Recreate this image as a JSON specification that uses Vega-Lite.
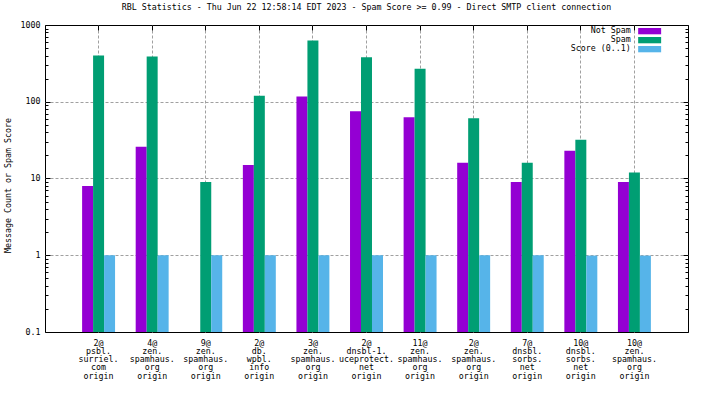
{
  "$schema": "https://vega.github.io/schema/vega-lite/v6.json",
  "width": 643,
  "height": 307,
  "autosize": "none",
  "padding": {"left": 45, "top": 25, "right": 16, "bottom": 64},
  "background": "white",
  "title": {
    "text": "RBL Statistics - Thu Jun 22 12:58:14 EDT 2023 - Spam Score >= 0.99 - Direct SMTP client connection",
    "font": "DejaVu Sans Mono",
    "fontSize": 8.3,
    "fontWeight": "normal",
    "color": "black",
    "offset": 9,
    "anchor": "middle"
  },
  "config": {
    "view": {"stroke": "black", "strokeWidth": 1},
    "axis": {"labelFont": "DejaVu Sans Mono", "labelFontSize": 8.3, "labelColor": "black", "titleFont": "DejaVu Sans Mono", "titleFontSize": 8.3, "titleFontWeight": "normal", "titleColor": "black", "domain": false}
  },
  "data": {
    "values": [
      {"cat": "2@|psbl.|surriel.|com|origin", "series": "Not Spam", "value": 8},
      {"cat": "2@|psbl.|surriel.|com|origin", "series": "Spam", "value": 400},
      {"cat": "2@|psbl.|surriel.|com|origin", "series": "Score (0..1)", "value": 1},
      {"cat": "4@|zen.|spamhaus.|org|origin", "series": "Not Spam", "value": 26},
      {"cat": "4@|zen.|spamhaus.|org|origin", "series": "Spam", "value": 390},
      {"cat": "4@|zen.|spamhaus.|org|origin", "series": "Score (0..1)", "value": 1},
      {"cat": "9@|zen.|spamhaus.|org|origin", "series": "Spam", "value": 9},
      {"cat": "9@|zen.|spamhaus.|org|origin", "series": "Score (0..1)", "value": 1},
      {"cat": "2@|db.|wpbl.|info|origin", "series": "Not Spam", "value": 15},
      {"cat": "2@|db.|wpbl.|info|origin", "series": "Spam", "value": 120},
      {"cat": "2@|db.|wpbl.|info|origin", "series": "Score (0..1)", "value": 1},
      {"cat": "3@|zen.|spamhaus.|org|origin", "series": "Not Spam", "value": 117},
      {"cat": "3@|zen.|spamhaus.|org|origin", "series": "Spam", "value": 630},
      {"cat": "3@|zen.|spamhaus.|org|origin", "series": "Score (0..1)", "value": 1},
      {"cat": "2@|dnsbl-1.|uceprotect.|net|origin", "series": "Not Spam", "value": 75},
      {"cat": "2@|dnsbl-1.|uceprotect.|net|origin", "series": "Spam", "value": 380},
      {"cat": "2@|dnsbl-1.|uceprotect.|net|origin", "series": "Score (0..1)", "value": 1},
      {"cat": "11@|zen.|spamhaus.|org|origin", "series": "Not Spam", "value": 63},
      {"cat": "11@|zen.|spamhaus.|org|origin", "series": "Spam", "value": 270},
      {"cat": "11@|zen.|spamhaus.|org|origin", "series": "Score (0..1)", "value": 1},
      {"cat": "2@|zen.|spamhaus.|org|origin", "series": "Not Spam", "value": 16},
      {"cat": "2@|zen.|spamhaus.|org|origin", "series": "Spam", "value": 61},
      {"cat": "2@|zen.|spamhaus.|org|origin", "series": "Score (0..1)", "value": 1},
      {"cat": "7@|dnsbl.|sorbs.|net|origin", "series": "Not Spam", "value": 9},
      {"cat": "7@|dnsbl.|sorbs.|net|origin", "series": "Spam", "value": 16},
      {"cat": "7@|dnsbl.|sorbs.|net|origin", "series": "Score (0..1)", "value": 1},
      {"cat": "10@|dnsbl.|sorbs.|net|origin", "series": "Not Spam", "value": 23},
      {"cat": "10@|dnsbl.|sorbs.|net|origin", "series": "Spam", "value": 32},
      {"cat": "10@|dnsbl.|sorbs.|net|origin", "series": "Score (0..1)", "value": 0.99},
      {"cat": "10@|zen.|spamhaus.|org|origin", "series": "Not Spam", "value": 9},
      {"cat": "10@|zen.|spamhaus.|org|origin", "series": "Spam", "value": 12},
      {"cat": "10@|zen.|spamhaus.|org|origin", "series": "Score (0..1)", "value": 0.99}
    ]
  },
  "layer": [
    {
      "mark": {"type": "bar"},
      "encoding": {
        "x": {
          "field": "cat", "type": "nominal", "sort": null,
          "scale": {"paddingInner": 0.385, "paddingOuter": 0.6925},
          "axis": {
            "orient": "bottom", "title": null, "ticks": false,
            "labelExpr": "split(datum.label, '|')",
            "labelPadding": 6, "labelLineHeight": 8.3, "labelAngle": 0,
            "labelOverlap": false, "labelBound": false,
            "grid": true, "gridColor": "#a0a0a0", "gridDash": [3, 2], "bandPosition": 0.5
          }
        },
        "xOffset": {
          "field": "series", "type": "nominal", "sort": ["Not Spam", "Spam", "Score (0..1)"],
          "scale": {"paddingInner": 0, "paddingOuter": 0}
        },
        "y": {
          "field": "value", "type": "quantitative", "stack": null,
          "scale": {"type": "log", "domain": [0.1, 1000], "nice": false},
          "axis": {
            "orient": "left", "title": "Message Count or Spam Score",
            "values": [0.1, 1, 10, 100, 1000], "format": "~g",
            "ticks": false, "labelPadding": 5,
            "grid": true, "gridColor": "#a0a0a0", "gridDash": [3, 2],
            "gridOpacity": {"condition": {"test": "datum.value > 0.5 && datum.value < 500", "value": 1}, "value": 0},
            "titleX": -37, "titleY": 160, "titleBaseline": "middle"
          }
        },
        "color": {
          "field": "series", "type": "nominal",
          "scale": {"domain": ["Not Spam", "Spam", "Score (0..1)"], "range": ["#9400d3", "#009e73", "#56b4e9"]},
          "legend": {
            "orient": "none", "legendX": 600.5, "legendY": 2, "title": null,
            "symbolType": "M-3.83,-1.05H3.83V1.05H-3.83Z", "symbolSize": 36, "symbolStrokeWidth": 0,
            "labelAlign": "right", "labelOffset": -23,
            "labelFont": "DejaVu Sans Mono", "labelFontSize": 8.3, "labelColor": "black",
            "rowPadding": 0, "padding": 0
          }
        }
      }
    },
    {
      "mark": {"type": "bar", "opacity": 0},
      "encoding": {
        "x": {
          "field": "cat", "type": "nominal", "sort": null,
          "axis": {"orient": "top", "title": null, "labels": false, "grid": false, "tickSize": -5, "tickColor": "black", "bandPosition": 0.5}
        },
        "y": {
          "field": "value", "type": "quantitative", "stack": null,
          "axis": {
            "orient": "left", "title": null, "labels": false, "grid": false, "tickColor": "black",
            "values": [0.1, 0.2, 0.3, 0.4, 0.5, 0.6, 0.7, 0.8, 0.9, 1, 2, 3, 4, 5, 6, 7, 8, 9, 10, 20, 30, 40, 50, 60, 70, 80, 90, 100, 200, 300, 400, 500, 600, 700, 800, 900, 1000],
            "tickSize": {"condition": {"test": "datum.value == 0.1 || datum.value == 1 || datum.value == 10 || datum.value == 100 || datum.value == 1000", "value": -5}, "value": -3}
          }
        }
      }
    },
    {
      "mark": {"type": "bar", "opacity": 0},
      "encoding": {
        "x": {"field": "cat", "type": "nominal", "sort": null, "axis": null},
        "y": {
          "field": "value", "type": "quantitative", "stack": null,
          "axis": {
            "orient": "right", "title": null, "labels": false, "grid": false, "tickColor": "black",
            "values": [0.1, 0.2, 0.3, 0.4, 0.5, 0.6, 0.7, 0.8, 0.9, 1, 2, 3, 4, 5, 6, 7, 8, 9, 10, 20, 30, 40, 50, 60, 70, 80, 90, 100, 200, 300, 400, 500, 600, 700, 800, 900, 1000],
            "tickSize": {"condition": {"test": "datum.value == 0.1 || datum.value == 1 || datum.value == 10 || datum.value == 100 || datum.value == 1000", "value": -5}, "value": -3}
          }
        }
      }
    }
  ],
  "resolve": {"axis": {"x": "independent", "y": "independent"}}
}
